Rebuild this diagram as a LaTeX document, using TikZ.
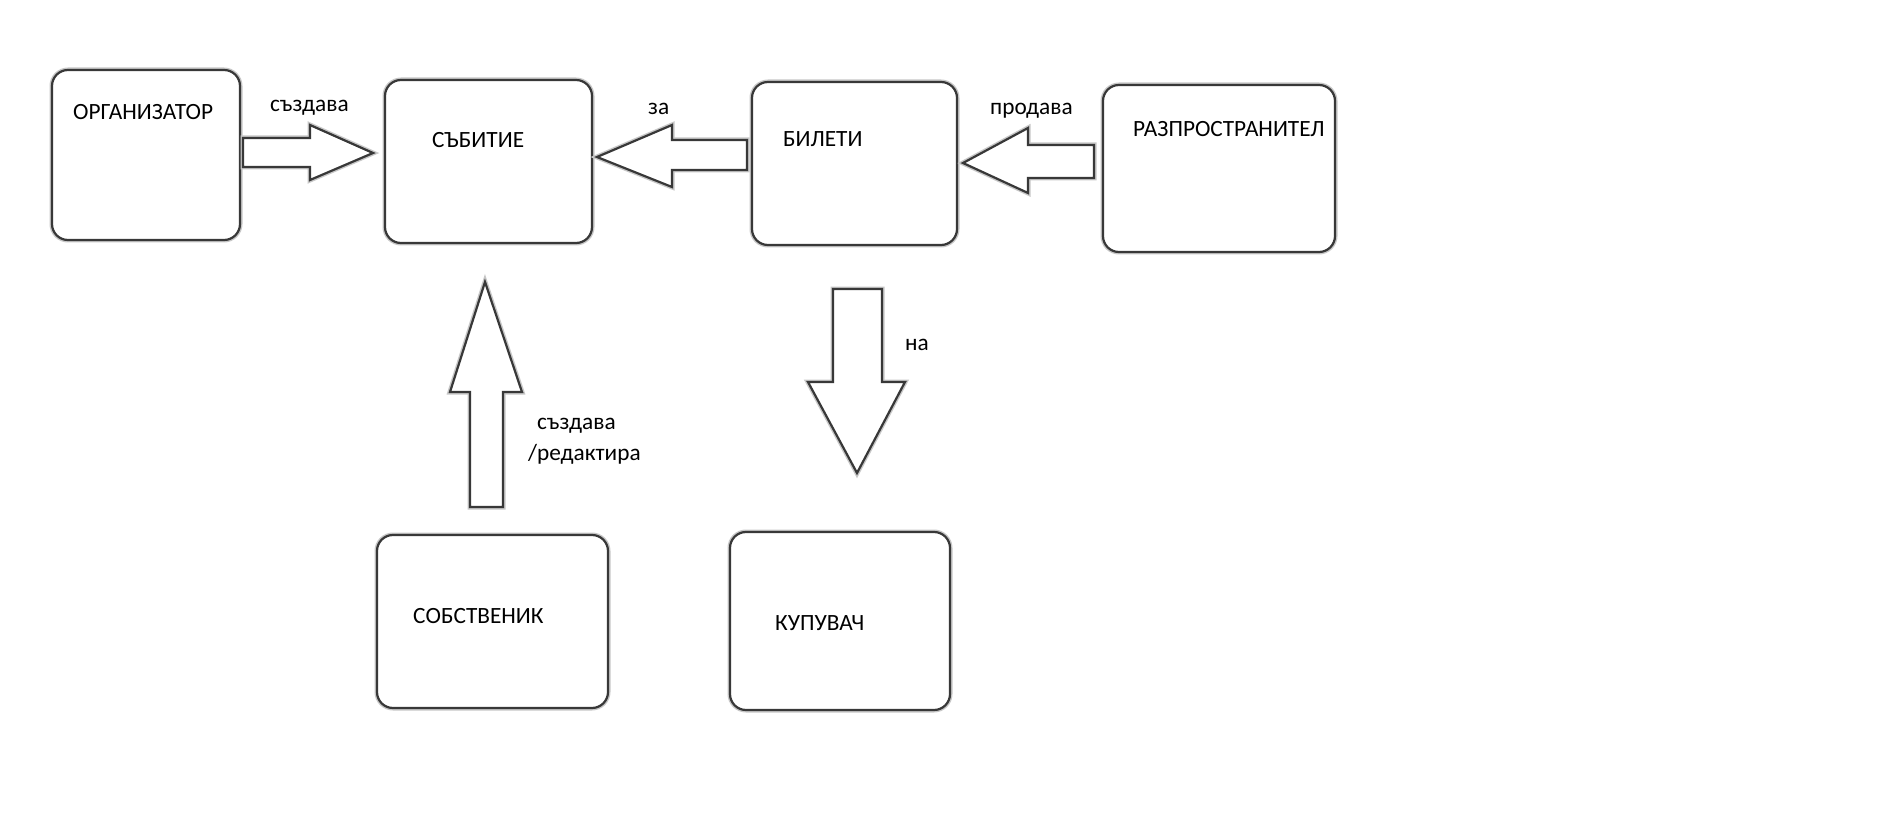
\documentclass[tikz,border=0pt]{standalone}
\usepackage{fontspec}
\setmainfont{Carlito}
\usetikzlibrary{positioning}

\tikzset{
	sketch/.style={preaction={draw=black!22, line width=5pt}, draw=black!78, line width=2.2pt, fill=white},
	box/.style={sketch, rectangle, rounded corners=16pt, inner sep=0pt},
	blockarrow/.style={sketch, line join=miter},
	lbl/.style={anchor=base west, inner sep=0pt, font=\fontsize{23.3}{28}\selectfont}
}

\begin{document}
\begin{tikzpicture}[x=1pt, y=-1pt]
		\useasboundingbox[fill=white] (0,0) rectangle (1904,821);

		% Boxes
		\node[box, minimum width=188pt, minimum height=170pt] (org) at (146,155) {};
		\node[box, minimum width=207pt, minimum height=163pt] (event) at (488.5,161.5) {};
		\node[box, minimum width=205pt, minimum height=163pt] (tickets) at (854.5,163.5) {};
		\node[box, minimum width=232pt, minimum height=167pt] (dist) at (1219,168.5) {};
		\node[box, minimum width=231pt, minimum height=173pt] (owner) at (492.5,621.5) {};
		\node[box, minimum width=220pt, minimum height=178pt] (buyer) at (840,621) {};

		% Box titles
		\node[lbl] (orgT) at (73,120) {ОРГАНИЗАТОР};
		\node[lbl] (eventT) at (432,148) {СЪБИТИЕ};
		\node[lbl] (ticketsT) at (783,147) {БИЛЕТИ};
		\node[lbl] (distT) at (1133,137) {РАЗПРОСТРАНИТЕЛ};
		\node[lbl] (ownerT) at (413,623) {СОБСТВЕНИК};
		\node[lbl] (buyerT) at (775,630) {КУПУВАЧ};

		% Block arrows
		\draw[blockarrow] (243,138) -- (310,138) -- (310,125) -- (373,153) -- (310,180) -- (310,167) -- (243,167) -- cycle;
		\draw[blockarrow] (747,140) -- (672,140) -- (672,125) -- (597,157) -- (672,187) -- (672,170) -- (747,170) -- cycle;
		\draw[blockarrow] (1094,145) -- (1028,145) -- (1028,128) -- (963,163) -- (1028,193) -- (1028,178) -- (1094,178) -- cycle;
		\draw[blockarrow] (470,507) -- (470,392) -- (450,392) -- (485,282) -- (522,392) -- (503,392) -- (503,507) -- cycle;
		\draw[blockarrow] (833,289) -- (882,289) -- (882,382) -- (905,382) -- (857,473) -- (808,382) -- (833,382) -- cycle;

		% Arrow labels
		\node[lbl] (creates) at (270,112) {създава};
		\node[lbl] (for) at (648,115) {за};
		\node[lbl] (sells) at (990,115) {продава};
		\node[lbl] (edits) at (537,429) {създава};
		\node[lbl] (edits2) at (528,460) {/редактира};
		\node[lbl] (to) at (905,350) {на};
	\end{tikzpicture}
\end{document}
